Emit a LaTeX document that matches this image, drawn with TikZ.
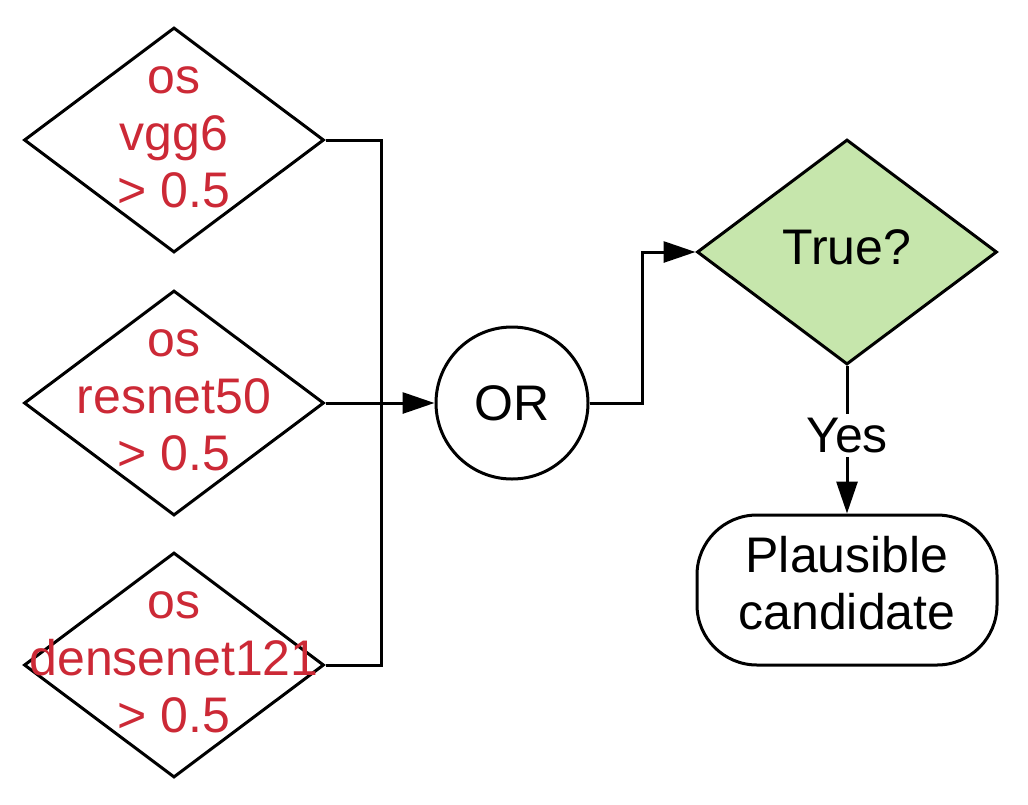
\documentclass[tikz,border=0pt]{standalone}
\usepackage{fontspec}
\setmainfont{Liberation Sans}
\usetikzlibrary{shapes.geometric,arrows.meta}
\definecolor{txtred}{RGB}{204,41,54}
\definecolor{okgreen}{RGB}{198,230,172}
\begin{document}
\begin{tikzpicture}[x=1pt,y=-1pt,
  every node/.style={font=\fontsize{50}{57}\selectfont},
  dia/.style={diamond,draw,line width=3pt,minimum width=300pt,minimum height=225pt,inner sep=0pt,aspect=1.333},
  redtxt/.style={text=txtred,align=center,inner sep=0pt},
  ln/.style={line width=3pt},
  arr/.style={line width=3pt,-{Triangle[length=32pt,width=21pt]}}]
\useasboundingbox (0,0) rectangle (1028,804);
\node[dia] (d1) at (174,140) {};
\node[redtxt] (d1t) at (174,137) {os\\vgg6\\> 0.5};
\node[dia] (d2) at (174,403) {};
\node[redtxt] (d2t) at (174,400) {os\\resnet50\\> 0.5};
\node[dia] (d3) at (174,665) {};
\node[redtxt] (d3t) at (174,662) {os\\densenet121\\> 0.5};
\node[circle,draw,line width=3pt,minimum size=152pt,inner sep=0pt] (or) at (512,403) {OR};
\node[dia,fill=okgreen] (t) at (847,252) {};
\node[inner sep=0pt] (tt) at (847,247) {True?};
\node[draw,line width=3pt,rounded corners=60pt,minimum width=300pt,minimum height=150pt,inner sep=0pt] (p) at (847,590) {};
\node[align=center,inner sep=0pt] (pt) at (847,583) {Plausible\\candidate};
\coordinate (bus) at (381,403);
\draw[ln] (d1.east) -| (bus);
\draw[ln] (d3.east) -| (bus);
\draw[arr] (d2.east) -- (or.west);
\draw[arr] (or.east) -- ++(53,0) |- (t.west);
\draw[arr] (t.south) -- node[fill=white,inner sep=4pt,pos=0.47] (yes) {Yes} (p.north);
\end{tikzpicture}
\end{document}
